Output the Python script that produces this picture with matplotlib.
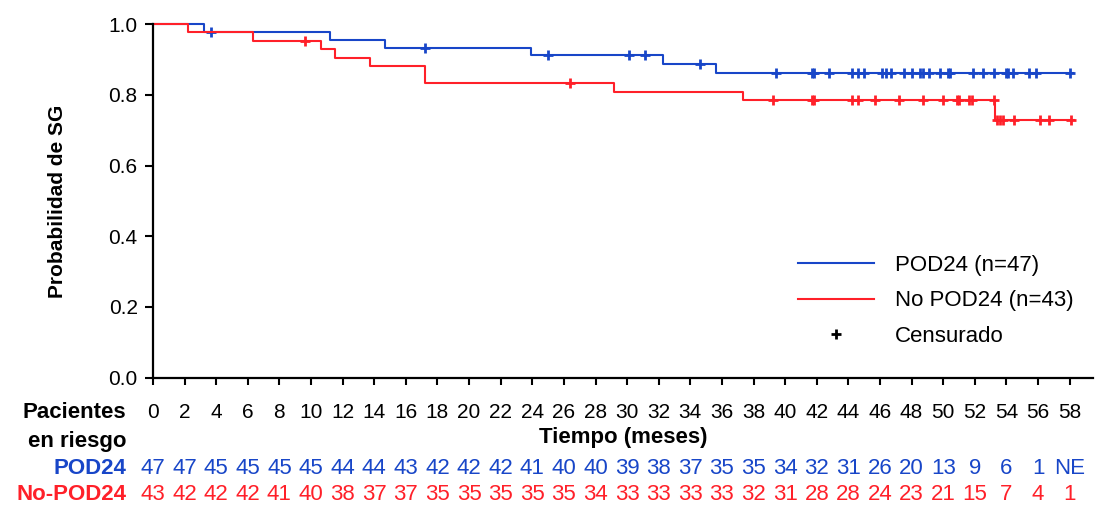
import numpy as np
import matplotlib.pyplot as plt
from matplotlib.lines import Line2D

plt.rcParams['font.family'] = ['Liberation Sans', 'DejaVu Sans']

# POD24 curve: event times (months) and survival after each step
pod_t = [0, 3.2, 11.2, 14.7, 23.9, 32.3, 35.6]
pod_s = [1.0, 0.978, 0.955, 0.933, 0.912, 0.887, 0.863]
pod_end = 58.2
pod_cens = [3.7, 17.2, 25.0, 30.1, 31.1, 34.6, 39.4, 41.7, 41.8, 42.8, 44.2,
            44.6, 45.0, 46.1, 46.4, 46.7, 47.5, 48.0, 48.5, 48.7, 49.1, 49.8,
            50.3, 50.4, 51.9, 52.5, 53.2, 54.0, 54.1, 54.4, 55.4, 55.9, 58.0]

# No POD24 curve
nopod_t = [0, 2.2, 6.3, 10.6, 11.5, 13.7, 17.2, 29.2, 37.3, 53.3]
nopod_s = [1.0, 0.977, 0.952, 0.929, 0.905, 0.881, 0.835, 0.808, 0.785, 0.728]
nopod_end = 58.3
nopod_cens = [9.6, 26.4, 39.2, 41.7, 41.8, 44.2, 44.6, 45.7, 47.2, 48.7, 50.0,
              50.9, 51.0, 51.6, 51.8, 53.2, 53.4, 53.6, 53.8, 54.5, 56.1, 56.7,
              58.1]

ticks = list(range(0, 60, 2))
risk_pod = ["47", "47", "45", "45", "45", "45", "44", "44", "43", "42",
            "42", "42", "41", "40", "40", "39", "38", "37", "35", "35",
            "34", "32", "31", "26", "20", "13", "9", "6", "1", "NE"]
risk_nopod = ["43", "42", "42", "42", "41", "40", "38", "37", "37", "35",
              "35", "35", "35", "35", "34", "33", "33", "33", "33", "32",
              "31", "28", "28", "24", "23", "21", "15", "7", "4", "1"]

blue = "#1846C8"
red = "#FF2029"
fs = 16
tfs = 15


def step_value(times, surv, x):
    idx = np.searchsorted(times, x, side="right") - 1
    return np.array(surv)[idx]


fig = plt.figure(figsize=(10.96, 5.05), dpi=100)
ax = fig.add_axes([153 / 1096, 1 - 377.5 / 505, 0.858, 353.2 / 505])

for t, s, end, cens, col in [(pod_t, pod_s, pod_end, pod_cens, blue),
                             (nopod_t, nopod_s, nopod_end, nopod_cens, red)]:
    xs = list(t) + [end]
    ys = list(s) + [s[-1]]
    ax.plot(xs, ys, drawstyle="steps-post", color=col, lw=1.5, clip_on=False)
    ax.plot(cens, step_value(t, s, cens), ls="none", marker="+", color=col,
            ms=7, mew=2, clip_on=False)

ax.set_xlim(0, 59.5)
ax.set_ylim(0, 1.0)
ax.set_yticks([0, 0.2, 0.4, 0.6, 0.8, 1.0])
ax.set_yticklabels(["0.0", "0.2", "0.4", "0.6", "0.8", "1.0"])
ax.set_xticks(ticks)
ax.set_xticklabels([str(v) for v in ticks])
ax.tick_params(axis="x", labelsize=tfs, length=5, width=1.5, pad=13)
ax.tick_params(axis="y", labelsize=tfs, length=6, width=1.5, pad=5)
for side in ["top", "right"]:
    ax.spines[side].set_visible(False)
for side in ["left", "bottom"]:
    ax.spines[side].set_linewidth(1.6)

ax.set_ylabel("Probabilidad de SG", fontsize=15, fontweight="bold", labelpad=30)

# at-risk table
xt = ax.get_xaxis_transform()
for i, v in enumerate(ticks):
    ax.text(v, -0.259, risk_pod[i], transform=xt, ha="center", va="center",
            color=blue, fontsize=fs, clip_on=False)
    ax.text(v, -0.330, risk_nopod[i], transform=xt, ha="center", va="center",
            color=red, fontsize=fs, clip_on=False)

lx = 126 / 1096
fig.text(lx, 1 - 413 / 505, "Pacientes", ha="right", va="center",
         fontsize=fs, fontweight="bold")
fig.text(lx, 1 - 441 / 505, "en riesgo", ha="right", va="center",
         fontsize=fs, fontweight="bold")
fig.text(lx, 1 - 469 / 505, "POD24", ha="right", va="center",
         fontsize=fs, fontweight="bold", color=blue)
fig.text(lx, 1 - 494 / 505, "No-POD24", ha="right", va="center",
         fontsize=fs, fontweight="bold", color=red)
fig.text(623 / 1096, 1 - 437 / 505, "Tiempo (meses)", ha="center", va="center",
         fontsize=fs, fontweight="bold")

handles = [Line2D([], [], color=blue, lw=1.5),
           Line2D([], [], color=red, lw=1.5),
           Line2D([], [], color="black", ls="none", marker="+", ms=7, mew=2)]
ax.legend(handles, ["POD24 (n=47)", "No POD24 (n=43)", "Censurado"],
          loc="lower left", bbox_to_anchor=(0.665, 0.03), frameon=False,
          fontsize=fs, handlelength=3.4, labelspacing=0.65, handletextpad=0.95)

fig.savefig("out.png", dpi=100)
